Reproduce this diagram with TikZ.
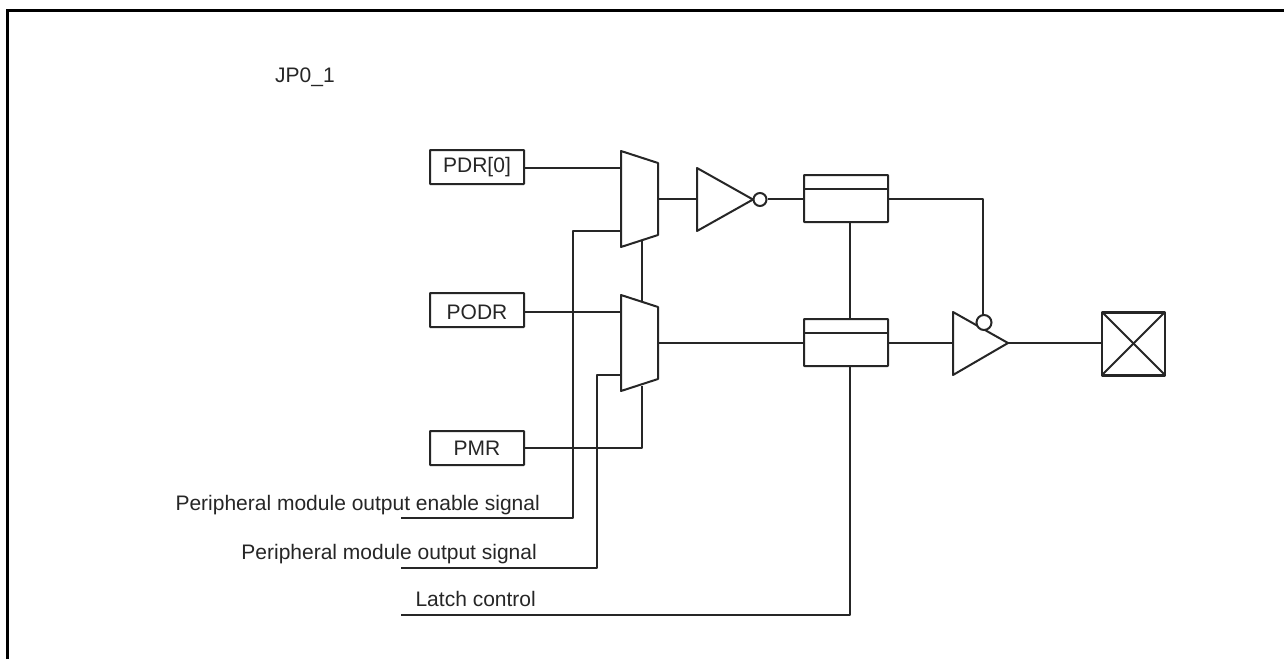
\documentclass[tikz,border=0pt]{standalone}
\usepackage{fontspec}
\setmainfont{Liberation Sans}
\tikzset{
  x=1pt,y=-1pt,
  wire/.style={line width=2pt,draw=black!85,line join=round},
  frameline/.style={line width=3pt,draw=black},
  regbox/.style={draw=black!85,line width=2pt,rounded corners=0.5pt,minimum width=94pt,minimum height=34pt,inner sep=0pt,font=\fontsize{21}{24}\selectfont,text=black!85},
  lbl/.style={inner sep=0pt,font=\fontsize{21}{24}\selectfont,text=black!85},
  bubble/.style={circle,draw=black!85,line width=2pt,fill=white,inner sep=0pt,minimum size=#1}
}
\begin{document}
\begin{tikzpicture}
\useasboundingbox (0,0) rectangle (1284,659);
\fill[white] (0,0) rectangle (1284,659);
\draw[frameline] (7.5,659) -- (7.5,10.5) -- (1284,10.5);
\node[lbl,anchor=west] (title) at (275,77) {JP0\_1};
\node[regbox] (pdr) at (477,167) {PDR[0]};
\node[regbox,text height=18.5pt,text depth=0pt] (podr) at (477,310) {PODR};
\node[regbox] (pmr) at (477,448) {PMR};
% multiplexers
\coordinate (m1a) at (621,151);\coordinate (m1b) at (658,163);\coordinate (m1c) at (658,235);\coordinate (m1d) at (621,247);
\coordinate (m2a) at (621,295);\coordinate (m2b) at (658,307);\coordinate (m2c) at (658,379);\coordinate (m2d) at (621,391);
% wires behind
\coordinate (en0) at (401,518);\coordinate (out0) at (401,568);\coordinate (lt0) at (401,615);
\draw[wire] (pdr.east |- 0,168) -- (621,168);
\draw[wire] (podr.east |- 0,312) -- (621,312);
\draw[wire] (pmr.east |- 0,448) -- (642,448) -- (642,386);
\draw[wire] (642,241) -- (642,301);
\draw[wire] (en0) -- (573,518) -- (573,231) -- (621,231);
\draw[wire] (out0) -- (597,568) -- (597,375) -- (621,375);
\draw[wire] (m1a) -- (m1b) -- (m1c) -- (m1d) -- cycle;
\draw[wire] (m2a) -- (m2b) -- (m2c) -- (m2d) -- cycle;
% inverter
\coordinate (i1) at (697,168);\coordinate (i2) at (697,231);\coordinate (i3) at (753,199.5);
\draw[wire] (i1) -- (i3) -- (i2) -- cycle;
\node[bubble=13pt] (ib) at (760,199.5) {};
\draw[wire] (658,199) -- (697,199);
% latches
\draw[wire,rounded corners=0.5pt] (804,175) rectangle (888,222);
\draw[wire] (804,189) -- (888,189);
\draw[wire,rounded corners=0.5pt] (804,319) rectangle (888,366);
\draw[wire] (804,333) -- (888,333);
\draw[wire] (ib.east |- 0,199) -- (804,199);
\draw[wire] (658,343) -- (804,343);
\draw[wire] (850,222) -- (850,319);
\draw[wire] (lt0) -- (850,615) -- (850,366);
% tri-state buffer
\coordinate (t1) at (953,312);\coordinate (t2) at (953,375);\coordinate (t3) at (1008,343);
\draw[wire] (t1) -- (t3) -- (t2) -- cycle;
\node[bubble=15pt] (tb) at (984,322.5) {};
\draw[wire] (888,199) -- (983,199) -- (983,315);
\draw[wire] (888,343) -- (953,343);
\draw[wire] (t3) -- (1102,343);
% pad
\draw[wire,line width=2.5pt] (1102,312.5) rectangle (1165,375.5);
\draw[wire] (1102,312) -- (1165,375);
\draw[wire] (1165,312) -- (1102,375);
\node[lbl,anchor=base east] (le) at (540,510) {Peripheral module output enable signal};
\node[lbl,anchor=base east] (lo) at (537,559) {Peripheral module output signal};
\node[lbl,anchor=base east] (ll) at (536,606) {Latch control};
\end{tikzpicture}
\end{document}
